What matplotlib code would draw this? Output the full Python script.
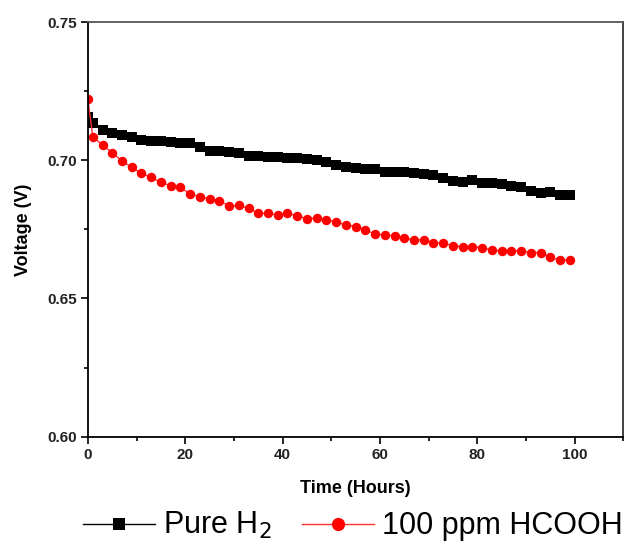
import matplotlib.pyplot as plt

plt.rcParams['font.family'] = ['Liberation Sans', 'DejaVu Sans']

# --- datos ---
horas = [0] + list(range(1, 100, 2))

puro_h2 = [0.7155, 0.7134, 0.7110, 0.7100, 0.7091, 0.7083, 0.7073, 0.7071, 0.7071,
           0.7067, 0.7061, 0.7061, 0.7049, 0.7033, 0.7033, 0.7031, 0.7025, 0.7016,
           0.7016, 0.7013, 0.7011,
           0.7009, 0.7007, 0.7003, 0.7001, 0.6992, 0.6983, 0.6977, 0.6973, 0.6970,
           0.6969, 0.6959, 0.6959, 0.6957, 0.6953, 0.6951, 0.6947, 0.6935, 0.6925,
           0.6921, 0.6928, 0.6917, 0.6917, 0.6913, 0.6908, 0.6902, 0.6890, 0.6883,
           0.6885, 0.6874, 0.6874]

hcooh = [0.7220, 0.7085, 0.7055, 0.7027, 0.6998, 0.6974, 0.6953, 0.6938, 0.6920,
         0.6908, 0.6902, 0.6878, 0.6868, 0.6860, 0.6854, 0.6834, 0.6837, 0.6826,
         0.6808, 0.6808, 0.6802,
         0.6808, 0.6798, 0.6789, 0.6790, 0.6784, 0.6777, 0.6766, 0.6760, 0.6748,
         0.6733, 0.6730, 0.6727, 0.6718, 0.6712, 0.6712, 0.6702, 0.6700, 0.6691,
         0.6687, 0.6687, 0.6684, 0.6675, 0.6672, 0.6672, 0.6673, 0.6666, 0.6666,
         0.6649, 0.6639, 0.6639]

etiquetas = ['Pure H$_2$', '100 ppm HCOOH']

fig = plt.figure(figsize=(6.28, 5.46), dpi=100)
ax = fig.add_axes([0.140, 0.2002, 0.8525, 0.7595])

ax.plot(horas, puro_h2, color='black', lw=1, marker='s', markersize=6.5,
        markeredgewidth=0, label=etiquetas[0])
ax.plot(horas, hcooh, color='#ff3030', lw=1, marker='o', markersize=6.8,
        markerfacecolor='red', markeredgewidth=0, label=etiquetas[1])

ax.set_xlim(0, 110)
ax.set_ylim(0.60, 0.75)
ax.set_xticks([0, 20, 40, 60, 80, 100])
ax.set_xticks([10, 30, 50, 70, 90, 110], minor=True)
ax.set_yticks([0.60, 0.65, 0.70, 0.75])
ax.set_yticks([0.625, 0.675, 0.725], minor=True)
ax.set_yticklabels(['0.60', '0.65', '0.70', '0.75'])

ax.tick_params(which='major', direction='out', length=5, width=1.2,
               labelsize=11, pad=3)
ax.tick_params(which='minor', direction='out', length=3, width=1.2)
for lab in ax.get_xticklabels() + ax.get_yticklabels():
    lab.set_fontweight('bold')
    lab.set_color('#222222')

for sp in ax.spines.values():
    sp.set_linewidth(1.3)
ax.spines['top'].set_color('#555555')
ax.spines['right'].set_color('#333333')

ax.set_xlabel('Time (Hours)', fontsize=13, fontweight='bold', labelpad=13)
ax.set_ylabel('Voltage (V)', fontsize=13, fontweight='bold', labelpad=11)

fig.legend(loc='center', bbox_to_anchor=(0.562, 0.037), ncol=2, frameon=False,
           fontsize=22, handlelength=2.35, handletextpad=0.25, columnspacing=1.0,
           markerscale=1.4, borderaxespad=0)

fig.savefig('out.png', dpi=100)
